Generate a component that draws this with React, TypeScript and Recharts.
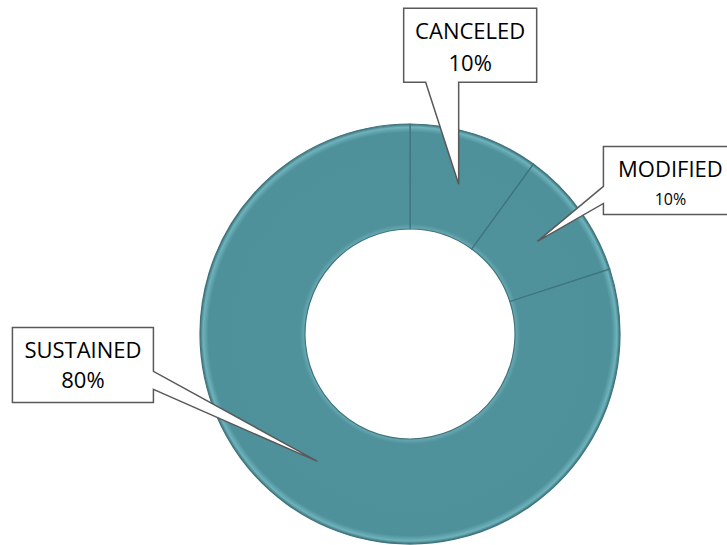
import { Cell, Pie, PieChart } from "recharts";

const CATEGORIES = ["CANCELED", "MODIFIED", "SUSTAINED"];
const SHARES = [10, 10, 80];

const data = CATEGORIES.map((name, i) => ({ name, value: SHARES[i] }));

const RADIAN = Math.PI / 180;
const FONT = "'Open Sans', 'Liberation Sans', sans-serif";

// callout box placement relative to the pointer tip
type Side = "bottom" | "left" | "right";
const CALLOUTS: Record<
  string,
  { dx: number; dy: number; w: number; h: number; side: Side; a: number; b: number; l1: number; l2: number; s2: number }
> = {
  CANCELED: { dx: -55, dy: -176, w: 133, h: 74, side: "bottom", a: -33, b: 0, l1: 31, l2: 63, s2: 22 },
  MODIFIED: { dx: 66, dy: -95, w: 134, h: 68, side: "left", a: -55, b: -38, l1: 31, l2: 59, s2: 16 },
  SUSTAINED: { dx: -305, dy: -134, w: 141, h: 75, side: "right", a: -90, b: -72, l1: 31, l2: 61, s2: 22 },
};

function calloutPath(tx: number, ty: number, c: (typeof CALLOUTS)[string]) {
  const x0 = tx + c.dx;
  const y0 = ty + c.dy;
  const x1 = x0 + c.w;
  const y1 = y0 + c.h;
  if (c.side === "bottom") {
    return `M${x0},${y0} L${x1},${y0} L${x1},${y1} L${tx + c.b},${y1} L${tx},${ty} L${tx + c.a},${y1} L${x0},${y1} Z`;
  }
  if (c.side === "left") {
    return `M${x0},${y0} L${x1},${y0} L${x1},${y1} L${x0},${y1} L${x0},${ty + c.b} L${tx},${ty} L${x0},${ty + c.a} Z`;
  }
  return `M${x0},${y0} L${x1},${y0} L${x1},${ty + c.a} L${tx},${ty} L${x1},${ty + c.b} L${x1},${y1} L${x0},${y1} Z`;
}

function Callout(props: any) {
  const { cx, cy, midAngle, innerRadius, outerRadius, name, value } = props;
  const r = (innerRadius + outerRadius) / 2;
  const tx = cx + r * Math.cos(-midAngle * RADIAN);
  const ty = cy + r * Math.sin(-midAngle * RADIAN);
  const c = CALLOUTS[name];
  if (!c) return null;
  const bx = tx + c.dx + c.w / 2;
  const by = ty + c.dy;
  return (
    <g>
      <path d={calloutPath(tx, ty, c)} fill="#ffffff" stroke="#595959" strokeWidth={1.5} strokeLinejoin="miter" />
      <text x={bx} y={by + c.l1} textAnchor="middle" fontFamily={FONT} fontSize={22} fill="#000">
        {name}
      </text>
      <text x={bx} y={by + c.l2} textAnchor="middle" fontFamily={FONT} fontSize={c.s2} fill="#000">
        {`${value}%`}
      </text>
    </g>
  );
}

export default function App() {
  return (
    <div style={{ position: "absolute", left: 0, top: 0, background: "#fff" }}>
      <PieChart width={727} height={545} margin={{ top: 0, right: 0, bottom: 0, left: 0 }}>
        <defs>
          <radialGradient id="bevel" gradientUnits="userSpaceOnUse" cx={410} cy={334} r={210}>
            <stop offset="0.5" stopColor="#6aaab4" />
            <stop offset="0.525" stopColor="#4f929c" />
            <stop offset="0.96" stopColor="#4e919b" />
            <stop offset="0.985" stopColor="#6eb2bc" />
            <stop offset="1" stopColor="#3d737b" />
          </radialGradient>
        </defs>
        <Pie
          data={data}
          dataKey="value"
          nameKey="name"
          cx={410}
          cy={334}
          innerRadius={105}
          outerRadius={210}
          startAngle={90}
          endAngle={-270}
          stroke="#3f747c"
          strokeWidth={1.2}
          label={Callout}
          labelLine={false}
          isAnimationActive={false}
        >
          {data.map((d) => (
            <Cell key={d.name} fill="url(#bevel)" />
          ))}
        </Pie>
      </PieChart>
    </div>
  );
}
